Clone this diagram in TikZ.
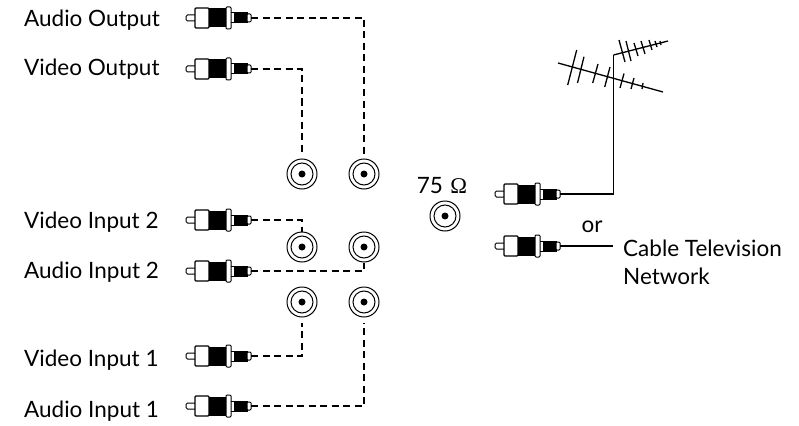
\documentclass[tikz,border=0pt]{standalone}
\usepackage{fontspec}
\setmainfont{Lato}
\newfontfamily\omegafont{Liberation Serif}
\tikzset{
	plug/.pic={
		\draw[line width=1pt,rounded corners=1.5pt] (10,-3) -- (1,-3) -- (1,3) -- (10,3);
		\draw[line width=1.2pt,rounded corners=1pt,fill=white] (10,-10) rectangle (24,10);
		\draw[line width=1pt,fill=black] (24,-9) rectangle (41,9);
		\draw[line width=1pt,rounded corners=1pt,fill=white] (41,-11) rectangle (46,11);
		\draw[line width=1pt] (46,-5) -- (49,-5) (46,5) -- (49,5);
		\draw[line width=1pt,fill=black] (49,-5) rectangle (62,5);
		\draw[line width=1pt,rounded corners=1pt,fill=white] (62,-4) rectangle (66,4);
		\coordinate (-out) at (66,0);
	}
}
\begin{document}
\begin{tikzpicture}[x=1pt,y=-1pt]
	\tikzstyle{jack}=[circle,draw,line width=1pt,inner sep=0pt,minimum size=30pt,
		path picture={
			\draw[line width=1pt] (path picture bounding box.center) circle (11pt);
			\fill (path picture bounding box.center) circle (3.5pt);
		}]
	\tikzstyle{wire}=[line width=1.2pt,dash pattern=on 7pt off 4.5pt]
	\tikzstyle{cable}=[line width=1.3pt]
	\tikzstyle{label}=[inner sep=0pt,anchor=base west,font=\fontsize{22.5}{25}\selectfont]
	\useasboundingbox (0,0) rectangle (799,425);

	\node[label] (aout) at (24,27) {Audio Output};
	\node[label] (vout) at (24,76) {Video Output};
	\node[label] (vin2) at (24,228) {Video Input 2};
	\node[label] (ain2) at (24,278) {Audio Input 2};
	\node[label] (vin1) at (24,366) {Video Input 1};
	\node[label] (ain1) at (24,417) {Audio Input 1};

	\pic (paout) at (185,18) {plug};
	\pic (pvout) at (185,69) {plug};
	\pic (pvin2) at (185,220) {plug};
	\pic (pain2) at (185,271) {plug};
	\pic (pvin1) at (185,356) {plug};
	\pic (pain1) at (185,406) {plug};
	\pic (pant) at (494,194) {plug};
	\pic (pcatv) at (494,246) {plug};

	\node[jack] (jvout) at (302,174) { };
	\node[jack] (jaout) at (364,174) { };
	\node[jack] (jvin2) at (302,247) { };
	\node[jack] (jain2) at (364,247) { };
	\node[jack] (jvin1) at (302,302) { };
	\node[jack] (jain1) at (364,302) { };
	\node[jack] (jtv) at (445,216) { };
	\node[label,anchor=base] (ohm) at (442,193) {75\,\,{\omegafont Ω}};

	\draw[wire,shorten >=3pt] (paout-out) -| (jaout);
	\draw[wire,shorten >=3pt] (pvout-out) -| (jvout);
	\draw[wire] (pvin2-out) -| (jvin2);
	\draw[wire] (pain2-out) -| (jain2);
	\draw[wire,shorten >=5pt] (pvin1-out) -| (jvin1);
	\draw[wire,shorten >=5pt] (pain1-out) -| (jain1);

	% antenna
	\coordinate (top) at (613.5,55);
	\draw[line width=1.8pt] (pant-out) -| (top);
	\draw[cable] (top) -- (668,41);
	\draw[cable] (558,63) -- (663,92);
	\foreach \xa/\ya/\xb/\yb in {576.7/50/567.7/85,584/56.7/577.5/83,598/64/592.7/83,610/67/604.7/87,624/73.5/620/88,634/78/631/89,643/83/642/89}
		\draw[cable] (\xa,\ya) -- (\xb,\yb);
	\foreach \xa/\ya/\xb/\yb in {619/40/625/62,626/41/631/61,634/43/638/56,641/41/645/54,649/40/652/50,655/41/657/47,660/41/661/45}
		\draw[cable] (\xa,\ya) -- (\xb,\yb);

	\node[label,anchor=base] (or) at (592,232) {or};
	\node[label] (catv) at (623,256) {Cable Television};
	\node[label] (net) at (623,284) {Network};
	\draw[cable,shorten >=10pt] (pcatv-out) -- (catv.base west |- pcatv-out);
\end{tikzpicture}
\end{document}
